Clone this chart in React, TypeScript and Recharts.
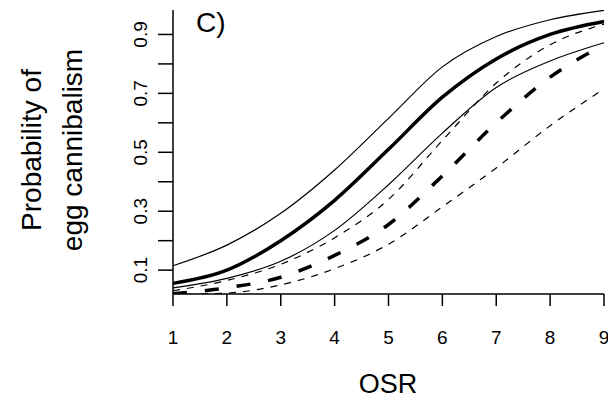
import React from "react";
import { Customized, Line, LineChart, XAxis, YAxis } from "recharts";

// OSR values on the x axis
const osr = [1, 2, 3, 4, 5, 6, 7, 8, 9];

// solid set: fit and its bounds
const solidFit = [0.055, 0.1, 0.2, 0.337, 0.51, 0.687, 0.817, 0.9, 0.944];
const solidUpper = [0.115, 0.185, 0.293, 0.44, 0.615, 0.79, 0.893, 0.95, 0.982];
const solidLower = [0.04, 0.072, 0.13, 0.235, 0.39, 0.565, 0.72, 0.81, 0.872];

// dashed set: fit and its bounds
const dashFit = [0.02, 0.04, 0.076, 0.15, 0.255, 0.42, 0.6, 0.755, 0.865];
const dashUpper = [0.03, 0.065, 0.12, 0.21, 0.34, 0.54, 0.735, 0.865, 0.935];
const dashLower = [0.017, 0.022, 0.05, 0.105, 0.188, 0.315, 0.447, 0.59, 0.715];

const yTicks = [0.1, 0.2, 0.3, 0.4, 0.5, 0.6, 0.7, 0.8, 0.9];
const yLabelled = [0.1, 0.3, 0.5, 0.7, 0.9];

const FONT = "'Liberation Sans', Arial, sans-serif";

const rows = osr.map((x, i) => ({
    x,
    sFit: solidFit[i],
    sUp: solidUpper[i],
    sLo: solidLower[i],
    dFit: dashFit[i],
    dUp: dashUpper[i],
    dLo: dashLower[i],
}));

function XTick(props: any) {
    const { x, y, payload } = props;
    return (
        <text x={x} y={y} dy="0.72em" textAnchor="middle" fontSize={19} fontFamily={FONT} fill="#000">
            {payload.value}
        </text>
    );
}

function YTick(props: any) {
    const { x, y, payload } = props;
    const v = payload.value;
    if (!yLabelled.some((t) => Math.abs(t - v) < 1e-6)) return null;
    return (
        <text
            x={x}
            y={y}
            transform={`rotate(-90, ${x}, ${y})`}
            textAnchor="middle"
            dominantBaseline="central"
            fontSize={19}
            fontFamily={FONT}
            fill="#000"
        >
            {v.toFixed(1)}
        </text>
    );
}

function Titles() {
    return (
        <g fontFamily={FONT} fill="#000">
            <text x={33} y={142} transform="rotate(-90, 33, 142)" textAnchor="middle" fontSize={28}>
                Probability of
            </text>
            <text x={74} y={142} transform="rotate(-90, 74, 142)" textAnchor="middle" fontSize={28}>
                egg cannibalism
            </text>
            <text x={380} y={385} textAnchor="middle" fontSize={27}>
                OSR
            </text>
            <text x={188} y={24} fontSize={28}>
                C)
            </text>
        </g>
    );
}

export default function App() {
    return (
        <LineChart
            width={608}
            height={391}
            data={rows}
            margin={{ top: 2, right: 12, bottom: 0, left: 0 }}
        >
            <XAxis
                dataKey="x"
                type="number"
                domain={[1, 9]}
                ticks={osr}
                height={105}
                tickSize={12}
                tickMargin={24}
                stroke="#000"
                strokeWidth={1.5}
                tick={<XTick />}
            />
            <YAxis
                type="number"
                domain={[0.019, 0.983]}
                ticks={yTicks}
                allowDataOverflow
                width={165}
                tickSize={15}
                tickMargin={17}
                stroke="#000"
                strokeWidth={1.5}
                tick={<YTick />}
            />
            <Line isAnimationActive={false} type="monotone" dataKey="sUp" stroke="#000" strokeWidth={1.2} dot={false} />
            <Line isAnimationActive={false} type="monotone" dataKey="sFit" stroke="#000" strokeWidth={3.5} dot={false} />
            <Line isAnimationActive={false} type="monotone" dataKey="sLo" stroke="#000" strokeWidth={1.2} dot={false} />
            <Line isAnimationActive={false} type="monotone" dataKey="dUp" stroke="#000" strokeWidth={1.2} strokeDasharray="7 7" dot={false} />
            <Line isAnimationActive={false} type="monotone" dataKey="dFit" stroke="#000" strokeWidth={3.5} strokeDasharray="14 18" dot={false} />
            <Line isAnimationActive={false} type="monotone" dataKey="dLo" stroke="#000" strokeWidth={1.2} strokeDasharray="7 7" dot={false} />
            <Customized component={<Titles />} />
        </LineChart>
    );
}
